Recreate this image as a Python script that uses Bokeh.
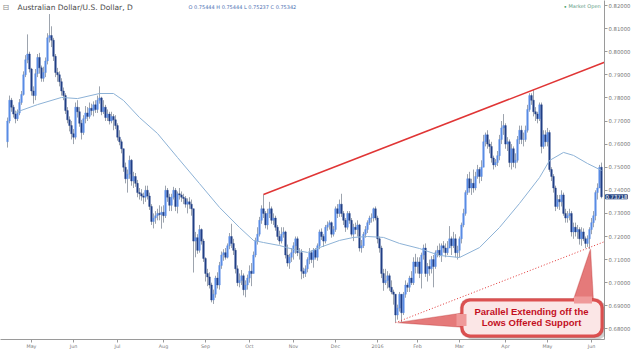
import numpy as np
from bokeh.plotting import figure
from bokeh.models import (ColumnDataSource, FixedTicker, PrintfTickFormatter, Label,
                          BoxAnnotation, PolyAnnotation, Range1d)
from bokeh.embed import file_html
from bokeh.resources import INLINE

# ---------------- data (AUD/USD daily, prices in pips /10000) ----------------
title_text = "Australian Dollar/U.S. Dollar, D"
ohlc_text = "O 0.75444 H 0.75444 L 0.75237 C 0.75342"
status_text = "Market Open"
last_price = 0.73718
callout_lines = ["Parallel Extending off the", "Lows Offered Support"]

month_labels = ["May", "Jun", "Jul", "Aug", "Sep", "Oct", "Nov", "Dec", "2016",
                "Feb", "Mar", "Apr", "May", "Jun"]
month_start_idx = [12, 33, 55, 78, 99, 121, 143, 164, 185, 205, 226, 249, 270, 292]

y_ticks = [0.68, 0.69, 0.70, 0.71, 0.72, 0.73, 0.74, 0.75, 0.76, 0.77, 0.78, 0.79, 0.80, 0.81, 0.82]

first_open = 7610
close_p = [
    # Apr 2015
    7700, 7790, 7760, 7730, 7710, 7735, 7780, 7815, 7900, 7965, 7990, 7925,
    # May
    7830, 7810, 7905, 7975, 7930, 7885, 7910, 7960, 8060, 8070, 8050, 7980, 7910, 7900, 7870, 7830, 7810, 7745, 7705, 7680, 7645,
    # Jun
    7630, 7760, 7740, 7690, 7650, 7710, 7735, 7720, 7755, 7745, 7770, 7750, 7790, 7800, 7740, 7760, 7715, 7730, 7700, 7720, 7705, 7680,
    # Jul
    7630, 7610, 7580, 7500, 7450, 7470, 7530, 7440, 7460, 7430, 7390, 7385, 7375, 7370, 7400, 7375, 7330, 7265, 7280, 7290, 7300, 7295, 7305,
    # Aug
    7290, 7400, 7370, 7335, 7370, 7400, 7330, 7385, 7380, 7370, 7365, 7340, 7350, 7340, 7320, 7180, 7195, 7140, 7230, 7180, 7105,
    # Sep
    7040, 7025, 6990, 6925, 6950, 7020, 6990, 7075, 7120, 7130, 7110, 7160, 7200, 7170, 7140, 7060, 7000, 7010, 7030, 6970, 6990, 7020,
    # Oct
    7050, 7040, 7120, 7180, 7210, 7270, 7320, 7300, 7250, 7300, 7320, 7270, 7280, 7240, 7200, 7180, 7210, 7220, 7120, 7085, 7110, 7130,
    # Nov
    7160, 7190, 7130, 7130, 7050, 7040, 7060, 7100, 7130, 7100, 7140, 7110, 7160, 7220, 7200, 7180, 7240, 7250, 7260, 7210, 7230,
    # Dec
    7320, 7300, 7340, 7300, 7270, 7240, 7300, 7270, 7210, 7240, 7230, 7250, 7150, 7160, 7210, 7230, 7260, 7280, 7280, 7320, 7280,
    # Jan 2016
    7190, 7150, 7040, 7000, 7010, 7030, 6980, 6960, 6950, 6860, 6890, 6950, 6870, 6950, 6990, 6980, 7020, 7000, 7090, 7070,
    # Feb
    7090, 7040, 7120, 7150, 7040, 7070, 7060, 7100, 7070, 7130, 7140, 7120, 7160, 7150, 7130, 7150, 7190, 7160, 7190, 7130, 7140,
    # Mar
    7190, 7250, 7300, 7390, 7450, 7410, 7430, 7410, 7460, 7490, 7460, 7500, 7610, 7640, 7600, 7590, 7540, 7510, 7520, 7550, 7620, 7670, 7680,
    # Apr
    7600, 7610, 7520, 7580, 7520, 7530, 7620, 7660, 7620, 7620, 7660, 7750, 7810, 7790, 7740, 7730, 7710, 7770, 7590, 7640, 7610,
    # May
    7650, 7490, 7460, 7410, 7330, 7360, 7350, 7380, 7300, 7280, 7290, 7300, 7220, 7240, 7220, 7230, 7190, 7220, 7190, 7170, 7190, 7230,
    # Jun
    7260, 7290, 7390, 7410, 7500, 7372,
]
high_p = [
    7715, 7810, 7800, 7770, 7745, 7750, 7795, 7830, 7915, 7985, 8075, 8000,
    7930, 7850, 7925, 7990, 7995, 7940, 7935, 7975, 8080, 8163, 8110, 8060, 7990, 7930, 7915, 7885, 7845, 7820, 7760, 7720, 7700,
    7665, 7780, 7790, 7760, 7705, 7725, 7765, 7760, 7780, 7775, 7785, 7790, 7810, 7850, 7805, 7790, 7770, 7750, 7740, 7740, 7730, 7725,
    7690, 7660, 7620, 7560, 7520, 7490, 7550, 7535, 7480, 7475, 7445, 7410, 7405, 7390, 7420, 7420, 7390, 7340, 7300, 7310, 7320, 7335, 7330,
    7335, 7420, 7410, 7385, 7385, 7415, 7410, 7395, 7410, 7395, 7385, 7375, 7365, 7370, 7360, 7320, 7220, 7210, 7250, 7235, 7190,
    7110, 7060, 7045, 7000, 6970, 7030, 7045, 7090, 7135, 7145, 7150, 7170, 7215, 7255, 7190, 7150, 7075, 7040, 7055, 7040, 7010, 7035,
    7075, 7085, 7135, 7195, 7240, 7285, 7335, 7382, 7310, 7320, 7350, 7330, 7300, 7290, 7250, 7225, 7240, 7240, 7225, 7165, 7125, 7150,
    7175, 7200, 7200, 7150, 7145, 7065, 7075, 7110, 7150, 7140, 7150, 7150, 7170, 7230, 7235, 7210, 7250, 7265, 7270, 7265, 7245,
    7330, 7340, 7360, 7385, 7310, 7280, 7310, 7310, 7280, 7255, 7260, 7270, 7255, 7185, 7220, 7245, 7270, 7290, 7300, 7325, 7330,
    7290, 7200, 7160, 7060, 7060, 7050, 7040, 7010, 6970, 6950, 6905, 6960, 6945, 6960, 7010, 7000, 7030, 7050, 7110, 7125,
    7110, 7110, 7130, 7165, 7170, 7085, 7100, 7115, 7120, 7140, 7160, 7170, 7170, 7180, 7170, 7180, 7245, 7200, 7220, 7210, 7160,
    7200, 7260, 7320, 7400, 7470, 7480, 7450, 7490, 7480, 7510, 7500, 7530, 7640, 7650, 7660, 7620, 7610, 7550, 7535, 7570, 7640, 7700, 7730,
    7690, 7630, 7620, 7600, 7590, 7560, 7635, 7680, 7680, 7650, 7680, 7770, 7820, 7820, 7835, 7760, 7740, 7780, 7780, 7660, 7660,
    7670, 7660, 7500, 7470, 7420, 7380, 7380, 7400, 7390, 7320, 7310, 7320, 7310, 7260, 7260, 7250, 7240, 7240, 7235, 7200, 7205, 7240,
    7280, 7310, 7400, 7430, 7510, 7520,
]
low_p = [
    7585, 7690, 7740, 7715, 7690, 7700, 7725, 7770, 7810, 7890, 7950, 7910,
    7810, 7775, 7790, 7890, 7905, 7870, 7870, 7890, 7945, 8040, 8020, 7960, 7890, 7870, 7850, 7810, 7790, 7730, 7690, 7655, 7620,
    7600, 7620, 7715, 7675, 7620, 7640, 7690, 7700, 7710, 7725, 7720, 7735, 7735, 7775, 7725, 7730, 7700, 7700, 7685, 7690, 7660, 7665,
    7615, 7595, 7560, 7480, 7430, 7390, 7450, 7420, 7410, 7415, 7370, 7360, 7355, 7340, 7350, 7360, 7315, 7250, 7235, 7255, 7270, 7270, 7234,
    7260, 7280, 7350, 7310, 7310, 7360, 7310, 7300, 7360, 7350, 7340, 7325, 7300, 7320, 7290, 7044, 7110, 7125, 7130, 7165, 7090,
    7005, 6985, 6975, 6915, 6908, 6935, 6975, 6970, 7060, 7095, 7100, 7105, 7145, 7150, 7120, 7040, 6985, 6980, 6990, 6945, 6937, 6970,
    7000, 6985, 7040, 7110, 7165, 7200, 7255, 7280, 7235, 7230, 7280, 7255, 7250, 7225, 7185, 7165, 7170, 7195, 7105, 7070, 7060, 7090,
    7100, 7125, 7115, 7100, 7015, 7020, 7025, 7045, 7080, 7085, 7065, 7100, 7095, 7145, 7185, 7155, 7170, 7225, 7230, 7195, 7200,
    7220, 7280, 7285, 7285, 7250, 7220, 7230, 7255, 7200, 7180, 7210, 7200, 7135, 7130, 7150, 7195, 7215, 7250, 7260, 7265, 7270,
    7170, 7130, 7020, 6965, 6990, 6975, 6965, 6950, 6905, 6827, 6840, 6875, 6830, 6860, 6935, 6960, 6960, 6990, 6990, 7040,
    7040, 7020, 6975, 7100, 7025, 7005, 7030, 7040, 6980, 7060, 7110, 7110, 7090, 7130, 7110, 7120, 7170, 7120, 7150, 7110, 7100,
    7110, 7170, 7240, 7290, 7380, 7390, 7380, 7390, 7400, 7450, 7430, 7440, 7500, 7590, 7580, 7560, 7520, 7490, 7500, 7505, 7530, 7600, 7640,
    7580, 7570, 7500, 7490, 7500, 7495, 7520, 7600, 7600, 7590, 7610, 7650, 7740, 7770, 7720, 7700, 7690, 7700, 7560, 7580, 7590,
    7590, 7480, 7440, 7390, 7310, 7320, 7315, 7330, 7290, 7260, 7260, 7270, 7200, 7190, 7200, 7190, 7165, 7160, 7180, 7150, 7155, 7146,
    7210, 7240, 7270, 7360, 7420, 7365,
]

# moving average (bar index, pips)
ma_idx = [4, 15, 27, 35, 46, 53, 58, 66, 75, 85, 96, 106, 116, 123, 128, 136, 145, 150, 156,
          166, 173, 180, 188, 196, 206, 216, 226, 236, 246, 256, 266, 271, 278, 283, 290, 297]
ma_p = [7737, 7771, 7802, 7797, 7819, 7819, 7789, 7715, 7646, 7542, 7429, 7326, 7239, 7183, 7174, 7161, 7139, 7131, 7152,
        7183, 7196, 7200, 7196, 7170, 7148, 7118, 7109, 7152, 7239, 7343, 7455, 7529, 7564, 7551, 7516, 7486]

# ---------------- styling ----------------
UP = "#5a8de6"
DOWN = "#223f86"
WICK = "#9da4ae"
MA_COLOR = "#8db2d6"
RED = "#e03535"
AXIS = "#9a9a9a"
TICK_TXT = "#7a7a7a"

close = np.array(close_p) / 10000.0
high = np.array(high_p) / 10000.0
low = np.array(low_p) / 10000.0
open_ = np.concatenate([[first_open / 10000.0], close[:-1]])
high = np.maximum(high, np.maximum(open_, close))
low = np.minimum(low, np.minimum(open_, close))
idx = np.arange(len(close))
colors = np.where(close >= open_, UP, DOWN)

src = ColumnDataSource(dict(x=idx, h=high, l=low,
                            top=np.maximum(open_, close), bot=np.minimum(open_, close),
                            color=colors))

# pixel helpers for annotation placement (frame: x px = 7 + 2*i, y px = 5 + (0.82 - v)*2310)
def px2x(px):
    return (px - 7) / 2.0

def py2y(py):
    return 0.82 - (py - 5) / 2310.0

p = figure(width=640, height=364, output_backend="svg", toolbar_location=None,
           x_range=Range1d(px2x(0), px2x(604)), y_range=Range1d(py2y(339), py2y(0)),
           y_axis_location="right", min_border=0,
           min_border_left=0, min_border_top=0, min_border_bottom=25, min_border_right=36)
p.outline_line_color = None
p.grid.visible = False
p.background_fill_color = "white"
p.border_fill_color = "white"

# axes
xa = p.xaxis[0]
xa.ticker = FixedTicker(ticks=month_start_idx)
xa.major_label_overrides = {int(i): lab for i, lab in zip(month_start_idx, month_labels)}
ya = p.yaxis[0]
ya.ticker = FixedTicker(ticks=y_ticks)
ya.formatter = PrintfTickFormatter(format="%.5f")
for ax in (xa, ya):
    ax.axis_line_color = AXIS
    ax.major_tick_line_color = AXIS
    ax.minor_tick_line_color = None
    ax.major_tick_in = 0
    ax.major_tick_out = 3
    ax.major_label_text_color = TICK_TXT
    ax.major_label_text_font = "DejaVu Sans"
xa.major_label_text_font_size = "4.8px"
xa.major_label_standoff = 1
ya.major_label_text_font_size = "5.3px"
ya.major_label_standoff = 1

# candles
p.segment(x0="x", y0="h", x1="x", y1="l", source=src, line_color=WICK, line_width=1)
p.vbar(x="x", width=0.8, top="top", bottom="bot", source=src,
       fill_color="color", line_color="color", line_width=0.4)

# moving average
p.line(ma_idx, np.array(ma_p) / 10000.0, line_color=MA_COLOR, line_width=1)

# trend lines from data: October 2015 high -> April 2016 high, and parallel from January low
i_hi1 = int(np.argmax(high[115:145])) + 115
i_hi2 = int(np.argmax(high[240:])) + 240
i_lo = int(np.argmin(low[150:250])) + 150
slope = (high[i_hi2] - high[i_hi1]) / (i_hi2 - i_hi1)
x_end = px2x(604)
p.line([i_hi1, x_end], [high[i_hi1], high[i_hi1] + slope * (x_end - i_hi1)],
       line_color=RED, line_width=1.5)
p.line([i_lo, x_end], [low[i_lo], low[i_lo] + slope * (x_end - i_lo)],
       line_color=RED, line_width=1, line_dash="1 2")

# callout
i_lo2 = int(np.argmin(low[280:])) + 280
p.add_layout(PolyAnnotation(xs=[px2x(465), i_lo + 1.0, px2x(465)],
                            ys=[py2y(312), low[i_lo], py2y(327)],
                            fill_color="#e57a7a", fill_alpha=1, line_color="#b52424", line_width=1.2))
p.add_layout(PolyAnnotation(xs=[px2x(572), i_lo2 + 0.5, px2x(593)],
                            ys=[py2y(302), low[i_lo2], py2y(302)],
                            fill_color="#e57a7a", fill_alpha=1, line_color="#b52424", line_width=1.2))
p.add_layout(BoxAnnotation(left=px2x(463), right=px2x(606), top=py2y(300), bottom=py2y(339),
                           fill_color="#000000", fill_alpha=0.18, line_color=None, border_radius=9))
p.add_layout(BoxAnnotation(left=px2x(460), right=px2x(603), top=py2y(298), bottom=py2y(337),
                           fill_color="#dc5050", fill_alpha=1, line_color="#b01e1e", line_width=1.2,
                           border_radius=9))
p.add_layout(BoxAnnotation(left=px2x(463), right=px2x(600), top=py2y(301), bottom=py2y(334),
                           fill_color="#fbe6e6", fill_alpha=1, line_color=None, border_radius=7))
# cover the seams where pointers join the box
p.add_layout(PolyAnnotation(xs=[px2x(456), px2x(466), px2x(466), px2x(456)],
                            ys=[py2y(313.5), py2y(313.5), py2y(325.5), py2y(325.5)],
                            fill_color="#ef9a9a", fill_alpha=1, line_color=None))
p.add_layout(PolyAnnotation(xs=[px2x(573.5), px2x(591.5), px2x(591.5), px2x(573.5)],
                            ys=[py2y(296), py2y(296), py2y(303), py2y(303)],
                            fill_color="#ef9a9a", fill_alpha=1, line_color=None))
for k, line in enumerate(callout_lines):
    p.add_layout(Label(x=px2x(531), y=py2y(310.5 + 11 * k), text=line,
                       text_align="center", text_baseline="middle",
                       text_font="Liberation Sans", text_font_style="bold",
                       text_font_size="9.5px", text_color="#c3101f"))

# header texts
p.add_layout(Label(x=px2x(2), y=py2y(6.5), text="\u229f", text_baseline="middle",
                   text_font="DejaVu Sans", text_font_size="8px", text_color="#8a8a8a"))
p.add_layout(Label(x=px2x(17), y=py2y(6.5), text=title_text, text_baseline="middle",
                   text_font="DejaVu Sans", text_font_size="7.5px", text_color="#4a4a4a"))
p.add_layout(Label(x=px2x(188), y=py2y(6), text=ohlc_text, text_baseline="middle",
                   text_font="DejaVu Sans", text_font_size="5px", text_color="#4d6fb3"))
p.add_layout(Label(x=px2x(563), y=py2y(5.5), text="\u2022", text_baseline="middle",
                   text_font="DejaVu Sans", text_font_size="6px", text_color="#3d9a5f"))
p.add_layout(Label(x=px2x(568), y=py2y(5.5), text=status_text, text_baseline="middle",
                   text_font="DejaVu Sans", text_font_size="5px", text_color="#5f9c86"))

# last price marker on the axis: placed in the bottom side panel (spare room there)
# so it is drawn outside the frame without being clipped
p.add_layout(Label(x=px2x(605), y=last_price, text="%.5f" % last_price,
                   text_baseline="middle", text_align="left",
                   text_font="DejaVu Sans", text_font_size="5.3px", text_color="white",
                   background_fill_color="#23417f", background_fill_alpha=1.0,
                   border_line_color="#23417f"), "below")

open("out.html", "w").write(file_html(p, INLINE))
